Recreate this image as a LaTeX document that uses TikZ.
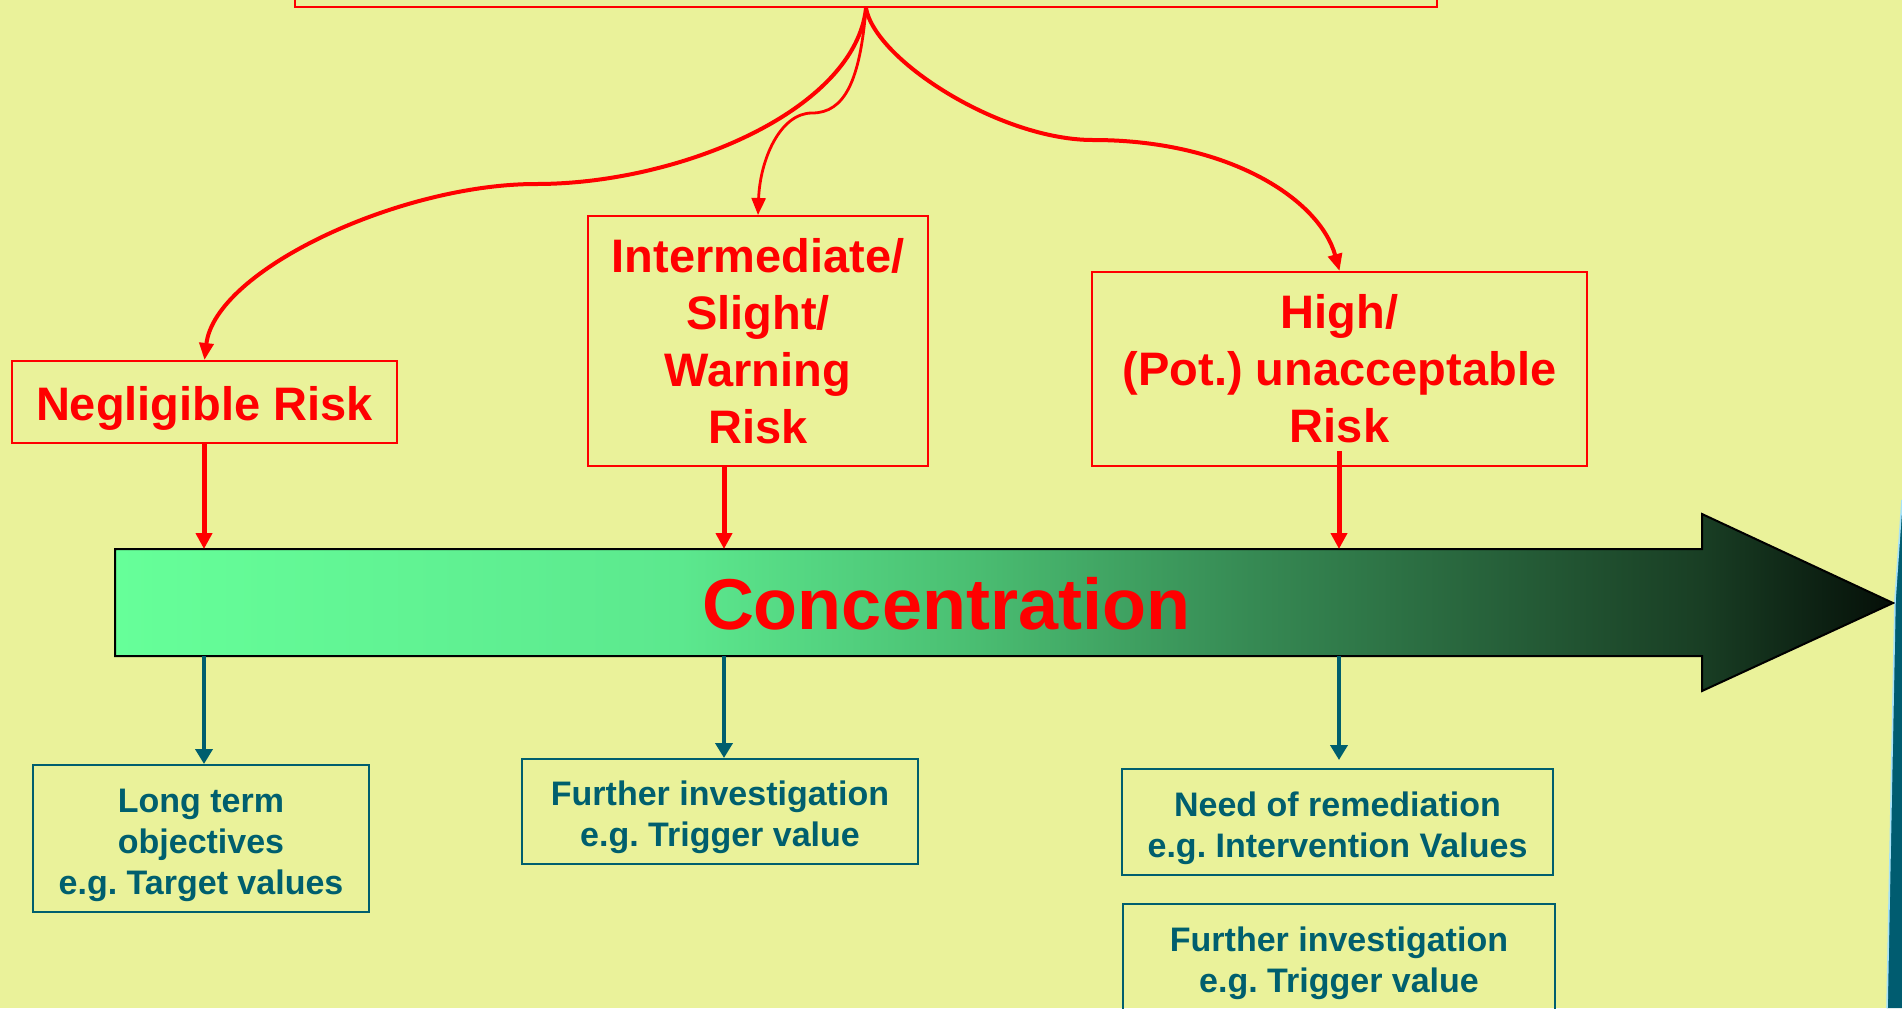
\documentclass[tikz,border=0pt]{standalone}
\usepackage{fontspec}
\setmainfont{Liberation Sans}
\usetikzlibrary{arrows.meta}
\frenchspacing
\definecolor{bg}{RGB}{234,242,154}
\definecolor{riskred}{RGB}{255,0,0}
\definecolor{tealtxt}{RGB}{0,95,110}
\definecolor{stripe}{RGB}{0,92,112}
\definecolor{gA}{RGB}{102,255,153}
\definecolor{gB}{RGB}{92,232,142}
\definecolor{gC}{RGB}{75,192,115}
\definecolor{gD}{RGB}{55,140,85}
\definecolor{gE}{RGB}{25,62,36}
\definecolor{gF}{RGB}{5,15,8}
\pgfdeclarehorizontalshading{concshade}{100bp}{color(0bp)=(gA); color(25bp)=(gA); color(40.9bp)=(gB); color(48.8bp)=(gC); color(56.6bp)=(gD); color(69.6bp)=(gE); color(75bp)=(gF); color(100bp)=(gF)}
\newcommand{\tstrut}{\rule{0pt}{18.5pt}}
\tikzset{
  riskbox/.style={draw=riskred, line width=1pt, text=riskred, align=center, inner sep=0pt,
    font=\fontsize{23.5}{28.5}\selectfont\bfseries},
  valbox/.style={draw=tealtxt, line width=1pt, text=tealtxt, align=center, inner sep=0pt,
    font=\fontsize{17}{20.5}\selectfont\bfseries},
  redarrow/.style={draw=riskred, line width=2.5pt, -{Triangle[length=8pt,width=8pt]}},
  redcurve/.style={draw=riskred, line width=2pt, -{Triangle[length=8.5pt,width=7pt]}},
  tealarrow/.style={draw=tealtxt, line width=2pt, -{Triangle[length=7.5pt,width=8.5pt]}},
}
\begin{document}
\begin{tikzpicture}[x=0.5pt,y=-0.5pt]
\useasboundingbox (0,0) rectangle (1902,1008);
\clip (0,0) rectangle (1902,1008);
\fill[bg] (0,0) rectangle (1902,1008);
% right edge stripe
\fill[stripe] (1902,500) -- (1895,600) -- (1887,1008) -- (1902,1008) -- cycle;
\draw[cyan!35, line width=0.8pt] (1902,500) -- (1895,600) -- (1887,1008);

% top box (cut off)
\node[riskbox, minimum width=571pt, minimum height=30pt] (top) at (866,-23) {};

% risk boxes
\node[riskbox, minimum width=192.5pt, minimum height=41pt] (neg) at (204.5,402) {\rule{0pt}{23.2pt}Negligible Risk};
\node[riskbox, minimum width=170pt, minimum height=125pt] (inter) at (758,341) {Intermediate/\\Slight/\\Warning\\Risk};
\node[riskbox, minimum width=247.5pt, minimum height=97pt] (high) at (1339.5,369) {High/\\(Pot.) unacceptable\hspace*{0.3em}\\Risk};

% concentration arrow
\shadedraw[shading=concshade, draw=black, line width=1pt]
  (115,549) -- (1702,549) -- (1702,514) -- (1893,603) -- (1702,691) -- (1702,656) -- (115,656) -- cycle;
\node[text=riskred, font=\fontsize{36}{40}\selectfont\bfseries] (conc) at (946,604) {Concentration};

\coordinate (t1) at (204,549);
\coordinate (t2) at (724,549);
\coordinate (t3) at (1339,549);
\coordinate (b1) at (204,656);
\coordinate (b2) at (724,656);
\coordinate (b3) at (1339,656);
\coordinate (hs) at (1339,451);

% value boxes
\node[valbox, minimum width=168pt, minimum height=73.5pt] (longt) at (201,838.5) {\tstrut Long term\\objectives\\e.g. Target values};
\node[valbox, minimum width=198pt, minimum height=52.5pt] (furth1) at (720,811.5) {\tstrut Further investigation\\e.g. Trigger value};
\node[valbox, minimum width=215.5pt, minimum height=53pt] (remed) at (1337.5,822) {\tstrut Need of remediation\\e.g. Intervention Values};
\node[valbox, minimum width=216pt, minimum height=53pt] (furth2) at (1339,957) {\tstrut Further investigation\\e.g. Trigger value};

% curved connectors from top box
\draw[redcurve] (top.south) .. controls (855,110) and (680,184) .. (536,184)
  .. controls (400,184) and (215,270) .. (neg.north);
\draw[redcurve, line width=1.4pt] (top.south) .. controls (860,80) and (845,113) .. (812,113)
  .. controls (780,113) and (760,160) .. (inter.north);
\draw[redcurve] (top.south) .. controls (875,60) and (1000,140) .. (1093,140)
  .. controls (1230,140) and (1320,200) .. (high.north);

% straight red arrows
\draw[redarrow] (neg.south -| t1) -- (t1);
\draw[redarrow] (inter.south -| t2) -- (t2);
\draw[redarrow] (hs) -- (t3);

% teal arrows
\draw[tealarrow] (b1) -- (longt.north -| b1);
\draw[tealarrow] (b2) -- (furth1.north -| b2);
\draw[tealarrow, shorten >=4pt] (b3) -- (remed.north -| b3);
\end{tikzpicture}
\end{document}
